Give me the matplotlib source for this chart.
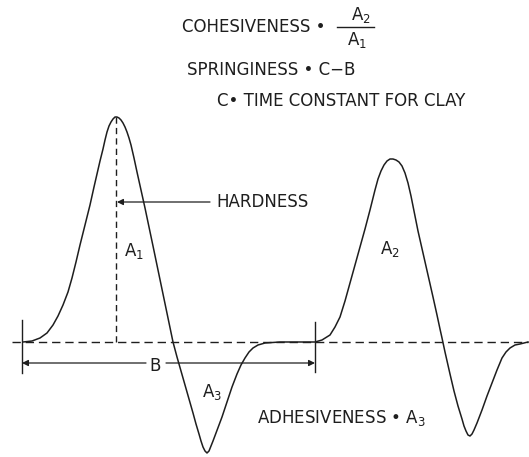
import matplotlib
matplotlib.use("Agg")
import matplotlib.pyplot as plt

plt.rcParams['mathtext.default'] = 'regular'
plt.rcParams['font.family'] = ['DejaVu Sans']

# texture profile curve (time, force)
time = [23, 32, 40, 47, 53, 58, 63, 68, 72, 76, 80, 85, 90, 94, 97, 100, 103, 105, 107, 109,
        111, 113, 115, 117, 119, 121, 123, 125, 127, 129, 131, 134, 137, 141, 145, 149,
        153, 158, 163, 168, 173,
        177, 181, 185, 189, 193, 196, 199, 201, 203, 205, 207, 209, 211, 213, 216, 219,
        222, 227, 232, 237, 241, 245, 249, 253, 258, 265, 280, 315,
        322, 330, 335, 340, 345, 350, 355, 360, 365, 370, 375, 378, 381, 384, 387, 390,
        393, 396, 399, 402, 405, 408, 411, 414, 418, 423, 428, 433, 437, 440, 442,
        445, 450, 454, 458, 462, 464, 466, 468, 470, 472, 474, 477, 482, 487, 492, 497,
        502, 506, 510, 515, 520, 528]
force = [0, 1, 4, 9, 17, 26, 37, 50, 64, 80, 97, 117, 137, 155, 168, 181, 193, 202, 210, 216,
         220, 223, 225, 225, 224, 222, 219, 215, 210, 204, 197, 184, 170, 152, 134, 115,
         96, 72, 48, 24, 0,
         -15, -29, -43, -57, -71, -82, -92, -99, -105, -109, -111, -109, -104, -99, -91, -83,
         -75, -60, -45, -32, -23, -16, -10, -6, -3, -1, 0, 0,
         2, 7, 15, 25, 41, 59, 77, 95, 113, 132, 152, 163, 171, 177, 181, 183,
         183, 182, 180, 176, 169, 159, 146, 131, 111, 89, 67, 45, 27, 13, 4,
         -10, -32, -49, -64, -77, -84, -89, -93, -94, -92, -88, -81, -68, -54, -41, -28,
         -16, -10, -6, -3, -2, 0]

first_start = 22
second_start = 315
hardness_time = 116
hardness = 225

ink = '#1e1e1e'
fs = 12
lab = dict(fontsize=fs, color=ink)

fig = plt.figure(figsize=(5.29, 4.57), dpi=100)
ax = fig.add_axes([0, 0, 1, 1])
ax.set_xlim(0, 529)
ax.set_ylim(-115, 342)
ax.axis('off')

# dashed zero line and hardness drop line
ax.plot([12, 528], [0, 0], color=ink, lw=1.0, dashes=(6, 3.5))
ax.plot([hardness_time, hardness_time], [0, hardness], color=ink, lw=1.0, dashes=(4.5, 3))

ax.plot(time, force, color=ink, lw=1.1, solid_joinstyle='round')

# start marks of the two bites
ax.plot([first_start, first_start], [-31, 22], color=ink, lw=1.0)
ax.plot([second_start, second_start], [-30, 20], color=ink, lw=1.0)

arrow = dict(arrowstyle='-|>', color=ink, lw=0.9, mutation_scale=9, shrinkA=0, shrinkB=0)
ax.annotate('', xy=(first_start, -21), xytext=(146, -21), arrowprops=arrow)
ax.annotate('', xy=(second_start, -21), xytext=(166, -21), arrowprops=arrow)
ax.text(155, -24, 'B', ha='center', va='center', **lab)

ax.annotate('', xy=(hardness_time + 1, 140), xytext=(210, 140), arrowprops=arrow)
ax.text(216, 140, 'HARDNESS', ha='left', va='center', **lab)

ax.text(124, 91, 'A$_1$', ha='left', va='center', **lab)
ax.text(380, 93, 'A$_2$', ha='left', va='center', **lab)
ax.text(202, -50, 'A$_3$', ha='left', va='center', **lab)
ax.text(257, -76, 'ADHESIVENESS • A$_3$', ha='left', va='center', **lab)

# formulas at the top
ax.text(182, 315, 'COHESIVENESS •', ha='left', va='center', **lab)
ax.plot([337, 374], [315, 315], color=ink, lw=1.0)
ax.text(361, 327, 'A$_2$', ha='center', va='center', **lab)
ax.text(357, 302, 'A$_1$', ha='center', va='center', **lab)
ax.text(187, 272, 'SPRINGINESS • C−B', ha='left', va='center', **lab)
ax.text(217, 241, 'C• TIME CONSTANT FOR CLAY', ha='left', va='center', **lab)

fig.savefig('out.png', dpi=100)
